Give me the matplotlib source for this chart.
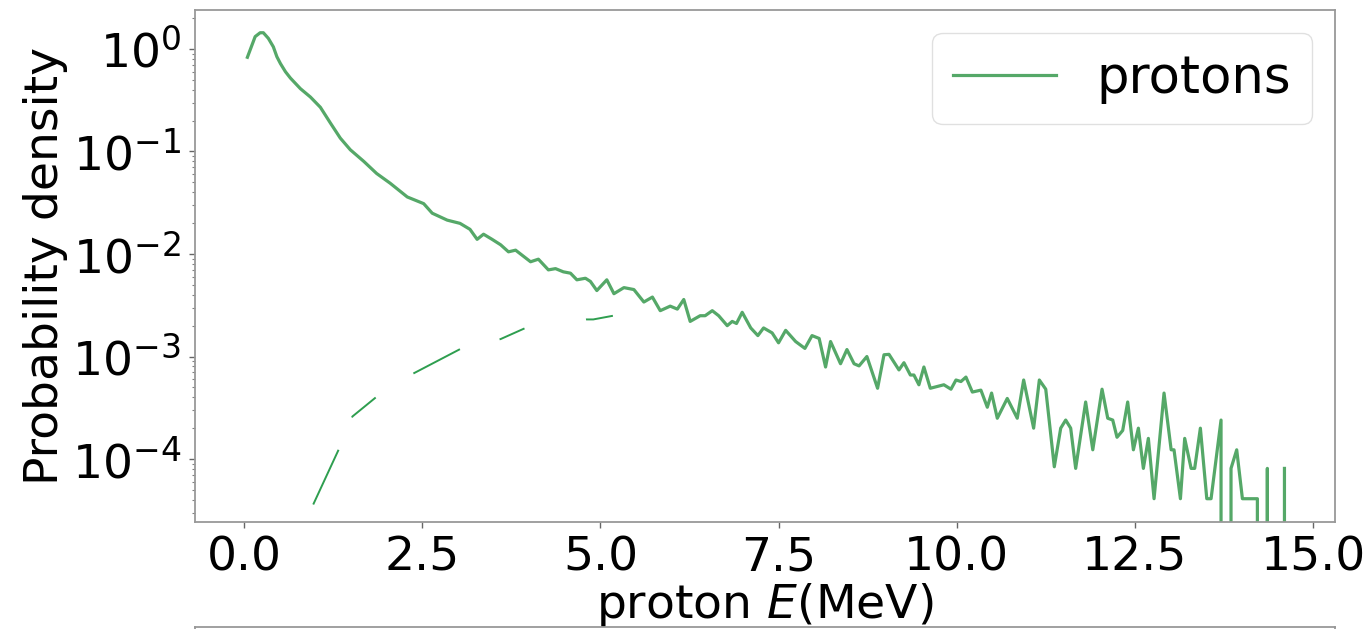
import matplotlib
matplotlib.use("Agg")
import matplotlib.pyplot as plt

# proton energy spectrum (MeV) and probability density
energy = [0.046, 0.155, 0.225, 0.27, 0.34, 0.41, 0.46, 0.51, 0.58, 0.65,
          0.79, 0.93, 1.07, 1.21,
          1.35, 1.49, 1.68, 1.86, 2.05, 2.29, 2.52, 2.64, 2.85, 3.03,
          3.17, 3.27, 3.36, 3.48, 3.60, 3.71, 3.81, 3.92, 4.02, 4.13,
          4.27, 4.37, 4.48, 4.58, 4.67, 4.79, 4.86, 4.95, 5.09, 5.19,
          5.33, 5.47, 5.61, 5.73, 5.84, 5.98, 6.08, 6.17, 6.26, 6.40,
          6.47, 6.57, 6.66, 6.78, 6.85, 6.91, 6.99, 7.11, 7.21, 7.29,
          7.41, 7.50, 7.60, 7.74, 7.87, 7.97, 8.07, 8.16, 8.23, 8.37,
          8.46, 8.56, 8.63, 8.74, 8.89, 8.98, 9.05, 9.19, 9.26, 9.35,
          9.40, 9.47, 9.54, 9.63, 9.73, 9.82, 9.92, 9.99, 10.06, 10.13,
          10.22, 10.34, 10.43, 10.49, 10.57, 10.71, 10.85, 10.94, 11.08, 11.16,
          11.25, 11.37, 11.46, 11.53, 11.60, 11.67, 11.81, 11.91, 12.04, 12.12,
          12.19, 12.25, 12.33, 12.40, 12.48, 12.55, 12.62, 12.69, 12.77, 12.91,
          13.01, 13.05, 13.14, 13.20, 13.29, 13.34, 13.42, 13.51, 13.57, 13.71,
          13.78, 13.85, 13.93, 14.01, 14.08, 14.15, 14.22, 14.29, 14.36, 14.43,
          14.52, 14.60]
density = [0.83, 1.32, 1.44, 1.44, 1.27, 1.05, 0.84, 0.72, 0.60, 0.52,
           0.41, 0.34, 0.27, 0.19,
           0.135, 0.104, 0.080, 0.061, 0.049, 0.036, 0.031, 0.025, 0.0214, 0.0199,
           0.0174, 0.0139, 0.0156, 0.0139, 0.0123, 0.0105, 0.0109, 0.0095, 0.0084, 0.0089,
           0.0070, 0.0072, 0.0067, 0.0065, 0.0056, 0.0058, 0.0054, 0.0044, 0.0056, 0.0041,
           0.0047, 0.0045, 0.0034, 0.0038, 0.0028, 0.0031, 0.0029, 0.0036, 0.0022, 0.0025,
           0.0025, 0.0028, 0.0025, 0.0020, 0.0022, 0.0021, 0.0027, 0.0019, 0.0016, 0.0019,
           0.0017, 0.00136, 0.0018, 0.0014, 0.0012, 0.0016, 0.0015, 0.00079, 0.0014, 0.00085,
           0.00117, 0.00085, 0.00081, 0.0010, 0.00049, 0.00104, 0.00105, 0.00074, 0.00087, 0.00066,
           0.00066, 0.00053, 0.00079, 0.00049, 0.00051, 0.00053, 0.00048, 0.00059, 0.00057, 0.00063,
           0.00045, 0.00047, 0.00032, 0.00044, 0.00025, 0.00039, 0.00025, 0.00059, 0.00020, 0.00059,
           0.00048, 8.4e-5, 0.00020, 0.00024, 0.00020, 8.1e-5, 0.00036, 0.000123, 0.00048, 0.00025,
           0.00024, 0.000163, 0.00019, 0.00036, 0.000123, 0.00020, 8.1e-5, 0.000159, 4.1e-5, 0.00044,
           0.000123, 0.000123, 4.1e-5, 0.000159, 8.1e-5, 8.1e-5, 0.00020, 4.1e-5, 4.1e-5, 0.00024,
           0.0, 8.1e-5, 0.000123, 4.1e-5, 4.1e-5, 4.1e-5, 4.1e-5, 0.0, 8.1e-5, 0.0,
           0.0, 8.1e-5]

# fitted curve (dashed)
fit_energy = [0.97, 1.33, 1.52, 1.85, 2.37, 3.03, 3.60, 3.95, 4.80, 4.90, 5.18]
fit_density = [3.6e-5, 1.25e-4, 2.6e-4, 4.0e-4, 6.8e-4, 1.18e-3, 1.48e-3, 1.9e-3, 2.3e-3, 2.3e-3, 2.5e-3]

plt.rcParams['font.family'] = ['DejaVu Sans']
plt.rcParams['font.size'] = 34

fig = plt.figure(figsize=(13.69, 6.29), dpi=100)
ax = fig.add_axes([0.1424, 0.1701, 0.8328, 0.814])

ax.plot(energy, density, color='#55a868', lw=2.3, label='protons')
ax.plot(fit_energy, fit_density, color='#2e9e4f', lw=1.4,
        linestyle=(0, (31, 18, 16, 23, 27, 21, 14, 32, 14, 40)))

ax.set_yscale('log')
ax.set_xlim(-0.69, 15.31)
ax.set_ylim(2.43e-5, 2.40)
ax.set_xticks([0.0, 2.5, 5.0, 7.5, 10.0, 12.5, 15.0])

ax.tick_params(axis='both', which='major', labelsize=34, length=4, width=1,
               color='0.4', pad=6)
ax.tick_params(axis='y', which='minor', length=2, width=0.8, color='0.5')
for s in ax.spines.values():
    s.set_color('0.6')
    s.set_linewidth(1.3)

ax.set_xlabel('proton $E$(MeV)', fontsize=34)
ax.xaxis.set_label_coords(0.5, -0.115)
ax.set_ylabel('Probability density', fontsize=34)
ax.yaxis.set_label_coords(-0.111, 0.5)

leg = ax.legend(loc='upper right', fontsize=37, handlelength=2.0,
                handletextpad=0.8, borderaxespad=0.45, fancybox=True,
                framealpha=0.8)
leg.get_frame().set_edgecolor('0.85')

# top edge of the next panel, just peeking in at the bottom
ax2 = fig.add_axes([0.1424, -0.5, 0.8328, 0.5 + 2 / 629])
ax2.set_xticks([])
ax2.set_yticks([])
for s in ax2.spines.values():
    s.set_color('0.6')
    s.set_linewidth(1.3)

fig.savefig('out.png', dpi=100)
